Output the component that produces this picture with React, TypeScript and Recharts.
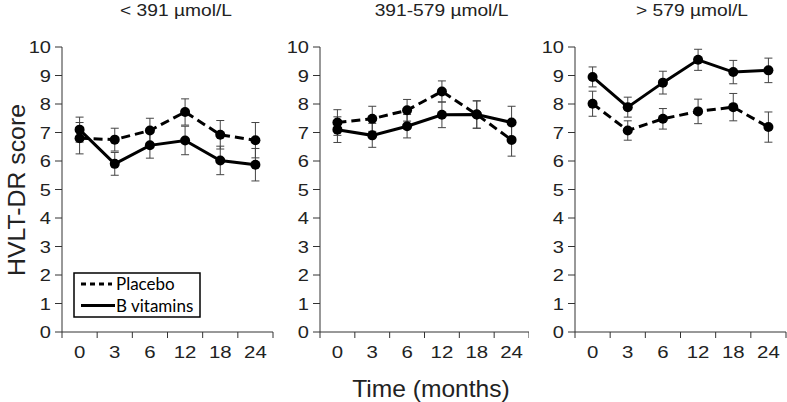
import React from 'react';
import { LineChart, Line, XAxis, YAxis, ErrorBar, Legend } from 'recharts';

const months = ['0', '3', '6', '12', '18', '24'];
const yTicks = [0, 1, 2, 3, 4, 5, 6, 7, 8, 9, 10];
const panelTitles = ['< 391 µmol/L', '391-579 µmol/L', '> 579 µmol/L'];
const legendOrder = ['Placebo', 'B vitamins'];

// Panel 1: < 391 µmol/L
const placebo1 = [6.8, 6.75, 7.07, 7.72, 6.92, 6.73];
const placeboErr1 = [0.55, 0.4, 0.43, 0.46, 0.5, 0.62];
const vitB1 = [7.1, 5.9, 6.55, 6.72, 6.02, 5.87];
const vitBErr1 = [0.44, 0.4, 0.45, 0.5, 0.5, 0.57];

// Panel 2: 391-579 µmol/L
const placebo2 = [7.35, 7.48, 7.78, 8.44, 7.63, 6.74];
const placeboErr2 = [0.45, 0.44, 0.38, 0.37, 0.48, 0.57];
const vitB2 = [7.1, 6.9, 7.22, 7.62, 7.63, 7.35];
const vitBErr2 = [0.45, 0.42, 0.41, 0.45, 0.48, 0.57];

// Panel 3: > 579 µmol/L
const placebo3 = [8.01, 7.07, 7.48, 7.74, 7.89, 7.19];
const placeboErr3 = [0.44, 0.34, 0.36, 0.43, 0.48, 0.53];
const vitB3 = [8.95, 7.89, 8.75, 9.55, 9.12, 9.18];
const vitBErr3 = [0.35, 0.35, 0.4, 0.37, 0.41, 0.43];

const build = (p: number[], pe: number[], v: number[], ve: number[]) =>
  months.map((m, i) => ({ month: m, placebo: p[i], placeboErr: pe[i], vitB: v[i], vitBErr: ve[i] }));

const data1 = build(placebo1, placeboErr1, vitB1, vitBErr1);
const data2 = build(placebo2, placeboErr2, vitB2, vitBErr2);
const data3 = build(placebo3, placeboErr3, vitB3, vitBErr3);

const FONT = "'Liberation Sans', Arial, Helvetica, sans-serif";
const AXIS = '#333';
const TEXT = '#222';
const X_TICK_SIZE = 6;
const X_TICK_MARGIN = 8;

const YTick = (props: any) => {
  const { x, y, payload } = props;
  return (
    <text
      transform={`translate(${x},${y}) scale(1.18,1)`}
      textAnchor="end"
      dy="0.36em"
      fontSize={17}
      fontFamily={FONT}
      fill={TEXT}
    >
      {payload.value}
    </text>
  );
};

// Category label at band centre, tick marks at band boundaries
const XTick = (props: any) => {
  const { x, y, payload, index, visibleTicksCount, width } = props;
  const half =
    payload && typeof payload.offset === 'number' && payload.offset > 0
      ? payload.offset
      : (width || 210) / (2 * months.length);
  const axisY = y - X_TICK_MARGIN - X_TICK_SIZE;
  const isLast = index === (visibleTicksCount ?? months.length) - 1;
  return (
    <g>
      <line x1={x - half} x2={x - half} y1={axisY} y2={axisY + X_TICK_SIZE} stroke={AXIS} strokeWidth={1} />
      {isLast && (
        <line x1={x + half} x2={x + half} y1={axisY} y2={axisY + X_TICK_SIZE} stroke={AXIS} strokeWidth={1} />
      )}
      <text
        transform={`translate(${x},${y}) scale(1.2,1)`}
        textAnchor="middle"
        dy="0.71em"
        fontSize={17}
        fontFamily={FONT}
        fill={TEXT}
      >
        {payload.value}
      </text>
    </g>
  );
};

const LegendBox = (props: any) => {
  const payload = [...(props.payload || [])].sort(
    (a: any, b: any) => legendOrder.indexOf(a.value) - legendOrder.indexOf(b.value)
  );
  return (
    <svg width={130} height={48} style={{ display: 'block' }}>
      <rect x={1} y={1} width={126} height={44} fill="#fff" stroke="#000" strokeWidth={1.5} />
      {payload.map((entry: any, i: number) => {
        const dashed = entry.payload && entry.payload.strokeDasharray;
        const cy = 12 + i * 21.5;
        return (
          <g key={i}>
            <line
              x1={8}
              x2={dashed ? 39 : 42}
              y1={cy}
              y2={cy}
              stroke="#000"
              strokeWidth={3}
              strokeDasharray={dashed ? '5 4' : undefined}
            />
            <text x={43} y={cy + 6} fontSize={17} fontFamily="Lato, 'Open Sans', sans-serif" fill="#000">
              {entry.value}
            </text>
          </g>
        );
      })}
    </svg>
  );
};

type PanelProps = {
  data: any[];
  left: number;
  width: number;
  yAxisWidth: number;
  marginRight: number;
  showLegend?: boolean;
};

const Panel = ({ data, left, width, yAxisWidth, marginRight, showLegend }: PanelProps) => (
  <div style={{ position: 'absolute', left, top: 0 }}>
    <LineChart width={width} height={402} data={data} margin={{ top: 47, right: marginRight, bottom: 30, left: 0 }}>
      <XAxis
        dataKey="month"
        type="category"
        scale="band"
        axisLine={{ stroke: AXIS }}
        tickLine={false}
        tickSize={X_TICK_SIZE}
        tickMargin={X_TICK_MARGIN}
        height={40}
        interval={0}
        tick={<XTick />}
      />
      <YAxis
        type="number"
        domain={[0, 10]}
        ticks={yTicks}
        width={yAxisWidth}
        tickSize={7}
        tickMargin={4}
        stroke={AXIS}
        interval={0}
        tick={<YTick />}
      />
      <Line
        dataKey="placebo"
        name="Placebo"
        stroke="#000"
        strokeWidth={3}
        strokeDasharray="9 5"
        dot={{ r: 5, fill: '#000', stroke: '#000', strokeWidth: 0 }}
        activeDot={false}
        isAnimationActive={false}
      >
        <ErrorBar dataKey="placeboErr" width={4} stroke="#444" strokeWidth={1} direction="y" />
      </Line>
      <Line
        dataKey="vitB"
        name="B vitamins"
        stroke="#000"
        strokeWidth={3}
        dot={{ r: 5, fill: '#000', stroke: '#000', strokeWidth: 0 }}
        activeDot={false}
        isAnimationActive={false}
      >
        <ErrorBar dataKey="vitBErr" width={4} stroke="#444" strokeWidth={1} direction="y" />
      </Line>
      {showLegend && (
        <Legend
          layout="vertical"
          align="center"
          verticalAlign="middle"
          content={<LegendBox />}
          wrapperStyle={{ left: 73, top: 272, width: 130, height: 48 }}
        />
      )}
    </LineChart>
  </div>
);

export default function App() {
  return (
    <div style={{ position: 'absolute', left: 0, top: 0, width: 787, height: 402, background: '#fff' }}>
      <Panel data={data1} left={0} width={275} yAxisWidth={62} marginRight={2} showLegend />
      <Panel data={data2} left={275} width={254} yAxisWidth={45} marginRight={0} />
      <Panel data={data3} left={530} width={257} yAxisWidth={45} marginRight={1} />
      <svg
        width={787}
        height={402}
        style={{ position: 'absolute', left: 0, top: 0, pointerEvents: 'none' }}
      >
        <text transform="translate(176,16) scale(1.2,1)" textAnchor="middle" fontSize={16} fontFamily={FONT} fill={TEXT}>
          {panelTitles[0]}
        </text>
        <text transform="translate(441.5,16) scale(1.2,1)" textAnchor="middle" fontSize={16} fontFamily={FONT} fill={TEXT}>
          {panelTitles[1]}
        </text>
        <text transform="translate(692,16) scale(1.2,1)" textAnchor="middle" fontSize={16} fontFamily={FONT} fill={TEXT}>
          {panelTitles[2]}
        </text>
        <text transform="translate(431,397) scale(1.07,1)" textAnchor="middle" fontSize={23} fontFamily={FONT} fill={TEXT}>
          Time (months)
        </text>
        <text
          transform="translate(24.5,190) rotate(-90) scale(1.08,1)"
          textAnchor="middle"
          fontSize={23}
          fontFamily={FONT}
          fill={TEXT}
        >
          HVLT-DR score
        </text>
      </svg>
    </div>
  );
}
